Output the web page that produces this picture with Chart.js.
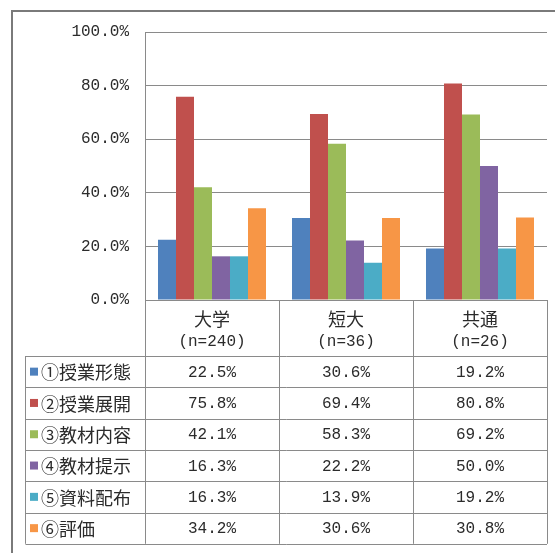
<!DOCTYPE html>
<html>
<head>
<meta charset="utf-8">
<title>授業評価</title>
<script src="https://cdn.jsdelivr.net/npm/chart.js@4"></script>
<style>
  html, body { margin: 0; padding: 0; background: #fff; }
  canvas { display: block; }
</style>
</head>
<body>
<canvas id="chart" width="555" height="553"></canvas>
<script>
// categories and sample sizes
const groups = ['大学', '短大', '共通'];
const groupSizes = ['(n=240)', '(n=36)', '(n=26)'];

// one array per item, values in percent
const itemNames = ['①授業形態', '②授業展開', '③教材内容', '④教材提示', '⑤資料配布', '⑥評価'];
const item1 = [22.5, 30.6, 19.2];
const item2 = [75.8, 69.4, 80.8];
const item3 = [42.1, 58.3, 69.2];
const item4 = [16.3, 22.2, 50.0];
const item5 = [16.3, 13.9, 19.2];
const item6 = [34.2, 30.6, 30.8];
const itemValues = [item1, item2, item3, item4, item5, item6];

const yTicks = [0, 20, 40, 60, 80, 100];

const colors = ['#4F81BD', '#C0504D', '#9BBB59', '#8064A2', '#4BACC6', '#F79646'];
const lineColor = '#8a8a8a';
const textColor = '#2b2b2b';
const monoFont = '"Liberation Mono", "DejaVu Sans Mono", monospace';
const cjkFont = '"Noto Sans CJK JP", "Noto Sans CJK SC", sans-serif';

// frame around the whole figure
const framePlugin = {
  id: 'frame',
  beforeDraw(chart) {
    const ctx = chart.ctx;
    ctx.save();
    ctx.strokeStyle = '#7a7a7a';
    ctx.lineWidth = 2;
    ctx.strokeRect(12, 11, chart.width + 20, chart.height + 20);
    ctx.restore();
  }
};

// data table under the plot, aligned with the category scale
const tablePlugin = {
  id: 'dataTable',
  afterDraw(chart) {
    const { ctx, chartArea: area, scales: { x } } = chart;
    const colW = area.width / groups.length;
    const tableLeft = 25.5;
    const headTop = area.bottom;
    const headBottom = headTop + 56;
    const rowH = 31.3;
    const tableBottom = headBottom + rowH * itemNames.length;

    ctx.save();
    ctx.strokeStyle = lineColor;
    ctx.lineWidth = 1;

    // horizontal rules
    ctx.beginPath();
    ctx.moveTo(area.left, Math.round(headTop) + 0.5);
    ctx.lineTo(area.right, Math.round(headTop) + 0.5);
    for (let r = 0; r <= itemNames.length; r++) {
      const y = Math.round(headBottom + r * rowH) + 0.5;
      ctx.moveTo(tableLeft, y);
      ctx.lineTo(area.right, y);
    }
    // vertical rules
    for (let c = 0; c <= groups.length; c++) {
      const xx = Math.round(area.left + c * colW) + 0.5;
      ctx.moveTo(xx, headTop);
      ctx.lineTo(xx, tableBottom);
    }
    ctx.moveTo(tableLeft, headBottom);
    ctx.lineTo(tableLeft, tableBottom);
    ctx.stroke();

    ctx.fillStyle = textColor;
    ctx.textAlign = 'center';
    ctx.textBaseline = 'middle';

    // header: group name and sample size
    groups.forEach((g, i) => {
      const cx = x.getPixelForValue(i);
      ctx.font = '18px ' + cjkFont;
      ctx.fillText(g, cx, headTop + 19);
      ctx.font = '16px ' + monoFont;
      ctx.fillText(groupSizes[i], cx, headTop + 42);
    });

    // rows: legend key, item name, values
    itemNames.forEach((name, r) => {
      const cy = headBottom + r * rowH + rowH / 2;
      ctx.fillStyle = colors[r];
      ctx.fillRect(30, cy - 4, 8, 8);
      ctx.fillStyle = textColor;
      ctx.textAlign = 'left';
      ctx.font = '18px ' + cjkFont;
      ctx.fillText(name, 41, cy + 1);
      ctx.textAlign = 'center';
      ctx.font = '16px ' + monoFont;
      itemValues[r].forEach((v, i) => {
        ctx.fillText(v.toFixed(1) + '%', x.getPixelForValue(i), cy + 1);
      });
    });
    ctx.restore();
  }
};

new Chart(document.getElementById('chart'), {
  type: 'bar',
  data: {
    labels: groups,
    datasets: itemNames.map((name, i) => ({
      label: name,
      data: itemValues[i],
      backgroundColor: colors[i],
      borderWidth: 0,
      barPercentage: 1,
      categoryPercentage: 0.806
    }))
  },
  options: {
    responsive: false,
    animation: false,
    layout: { padding: { top: 32, right: 8, bottom: 253, left: 0 } },
    plugins: {
      legend: { display: false },
      tooltip: { enabled: false }
    },
    scales: {
      x: { display: false },
      y: {
        min: 0,
        max: 100,
        afterFit(scale) { scale.width = 145; },
        afterBuildTicks(scale) { scale.ticks = yTicks.map(v => ({ value: v })); },
        border: { display: true, color: lineColor, width: 1 },
        grid: { color: lineColor, drawTicks: false },
        ticks: {
          padding: 16,
          color: textColor,
          font: { family: monoFont, size: 16 },
          callback: v => v.toFixed(1) + '%'
        }
      }
    }
  },
  plugins: [framePlugin, tablePlugin]
});
</script>
</body>
</html>
